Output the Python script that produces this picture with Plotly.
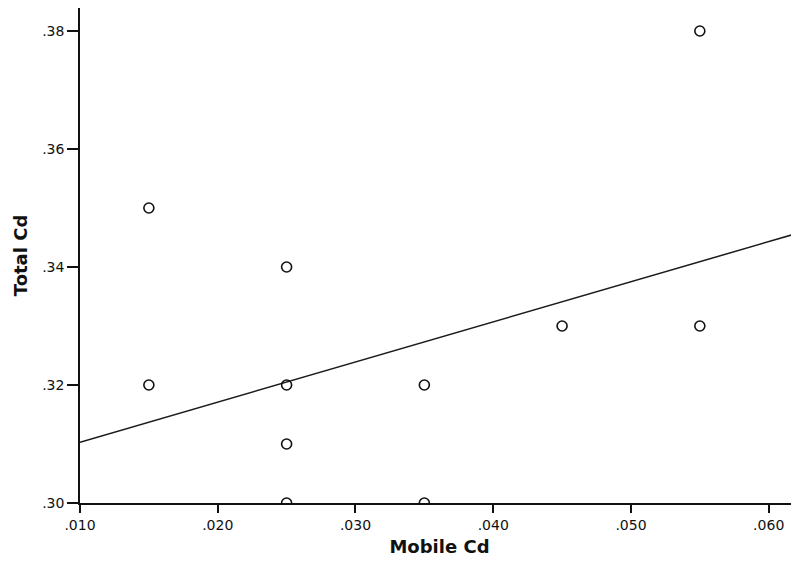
import numpy as np
import plotly.graph_objects as go

# Data
mobile_cd = [0.015, 0.015, 0.025, 0.025, 0.025, 0.025, 0.035, 0.035, 0.045, 0.055, 0.055]
total_cd = [0.35, 0.32, 0.34, 0.32, 0.31, 0.30, 0.32, 0.30, 0.33, 0.38, 0.33]

# Fit line: value at x=0.010 and slope
fit_at_010 = 0.3103
fit_slope = 0.680

x_ticks = [0.010, 0.020, 0.030, 0.040, 0.050, 0.060]
x_tick_labels = [".010", ".020", ".030", ".040", ".050", ".060"]
y_ticks = [0.30, 0.32, 0.34, 0.36, 0.38]
y_tick_labels = [".30", ".32", ".34", ".36", ".38"]

x_range = [0.010, 0.0622]
y_range = [0.30, 0.3839]

line_x = np.array(x_range)
line_y = fit_at_010 + fit_slope * (line_x - 0.010)

fig = go.Figure()
fig.add_trace(go.Scatter(
    x=line_x, y=line_y, mode="lines",
    line=dict(color="#1a1a1a", width=1.5),
    hoverinfo="skip", showlegend=False,
))
fig.add_trace(go.Scatter(
    x=mobile_cd, y=total_cd, mode="markers",
    marker=dict(symbol="circle-open", size=10, color="#111111",
                line=dict(width=1.6, color="#111111")),
    showlegend=False,
))

font_family = "DejaVu Sans, Liberation Sans, Arial, sans-serif"
fig.update_layout(
    width=791, height=561,
    margin=dict(l=72, r=0, t=0, b=66),
    paper_bgcolor="white", plot_bgcolor="white",
    font=dict(family=font_family, size=14, color="#111111"),
    xaxis=dict(
        range=x_range, tickvals=x_ticks, ticktext=x_tick_labels,
        showgrid=False, zeroline=False,
        showline=True, linecolor="#111111", linewidth=1.5,
        ticks="outside", ticklen=8, tickwidth=1.5, tickcolor="#111111",
        tickfont=dict(size=14),
        title=dict(text="<b>Mobile Cd</b>", font=dict(size=18), standoff=9),
    ),
    yaxis=dict(
        range=y_range, tickvals=y_ticks, ticktext=y_tick_labels,
        showgrid=False, zeroline=False,
        showline=True, linecolor="#111111", linewidth=1.5,
        ticks="outside", ticklen=11, tickwidth=1.5, tickcolor="#111111",
        tickfont=dict(size=14),
        title=dict(text="<b>Total Cd</b>", font=dict(size=18), standoff=10),
    ),
)

fig.write_html("out.html")
